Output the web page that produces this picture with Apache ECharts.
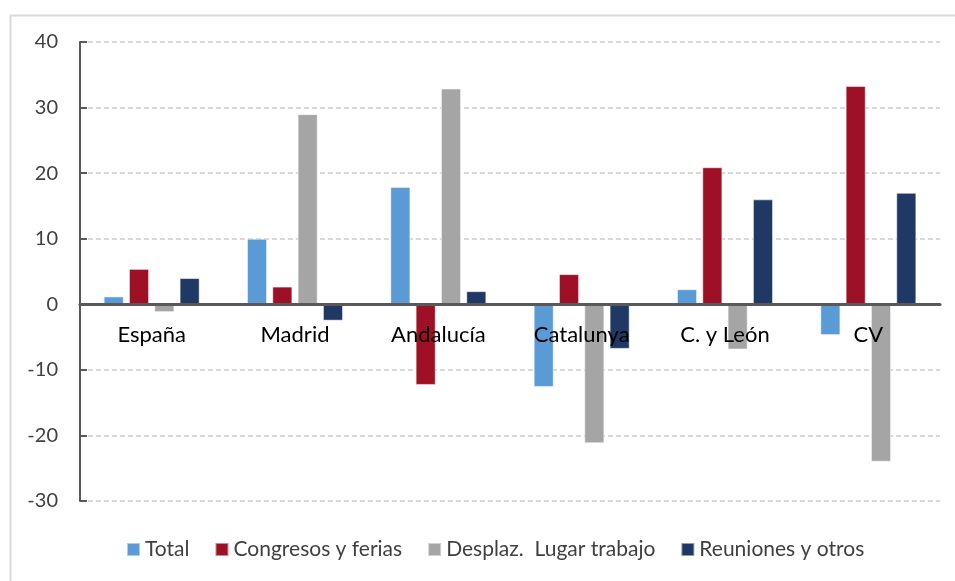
<!DOCTYPE html>
<html>
<head>
<meta charset="utf-8">
<script src="https://cdn.jsdelivr.net/npm/echarts@6/dist/echarts.min.js"></script>
<style>
html,body{margin:0;padding:0;background:#fff;}
#c{width:955px;height:581px;}
</style>
</head>
<body>
<div id="c"></div>
<script>
var categories = ['España', 'Madrid', 'Andalucía', 'Catalunya', 'C. y León', 'CV'];
var total = [1.2, 10.0, 17.9, -12.6, 2.3, -4.7];
var congresos = [5.4, 2.7, -12.3, 4.6, 20.9, 33.3];
var desplaz = [-1.2, 29.0, 32.9, -21.2, -6.9, -24.0];
var reuniones = [4.0, -2.5, 2.0, -6.8, 16.0, 17.0];
var seriesNames = ['Total', 'Congresos y ferias', 'Desplaz.  Lugar trabajo', 'Reuniones y otros'];
var yTicks = [-30, -20, -10, 0, 10, 20, 30, 40];

var colors = ['#5B9BD5', '#9E1025', '#A5A5A5', '#203864'];
var font = 'Lato, "Open Sans", "Noto Sans", sans-serif';
var W = 955, H = 581;
var gridTop = 42, gridBottom = 80;
var yMin = yTicks[0], yMax = yTicks[yTicks.length - 1];
var plotH = H - gridTop - gridBottom;
var zeroOffset = -(0 - yMin) / (yMax - yMin) * plotH;

var chart = echarts.init(document.getElementById('c'));
var data = [total, congresos, desplaz, reuniones];
chart.setOption({
  animation: false,
  graphic: [{
    type: 'rect', left: 8, top: 13, shape: {width: 1200, height: 1000},
    style: {fill: 'none', stroke: '#d9d9d9', lineWidth: 2}, silent: true
  }],
  grid: {left: 80, right: 15, top: gridTop, bottom: gridBottom},
  legend: {
    bottom: 16, left: 121, itemWidth: 13, itemHeight: 13, itemGap: 25,
    icon: 'rect',
    textStyle: {fontFamily: font, fontSize: 21, color: '#404040'},
    data: seriesNames
  },
  xAxis: {
    type: 'category', data: categories,
    offset: zeroOffset,
    axisLine: {onZero: false, lineStyle: {color: '#595959', width: 3}},
    axisTick: {show: false},
    axisLabel: {fontFamily: font, fontSize: 22, color: '#000', margin: 20},
    z: 5
  },
  yAxis: {
    type: 'value', min: yMin, max: yMax, interval: 10,
    axisLine: {show: true, lineStyle: {color: '#595959', width: 2}},
    axisTick: {show: true, inside: true, length: 7, lineStyle: {color: '#595959', width: 2}},
    axisLabel: {fontFamily: font, fontSize: 20, color: '#404040', margin: 22},
    splitLine: {lineStyle: {color: '#d9d9d9', type: [5, 3], width: 2}}
  },
  series: seriesNames.map(function (n, i) {
    return {
      name: n, type: 'bar', data: data[i],
      barGap: '26%', barCategoryGap: '33%',
      itemStyle: {color: colors[i], borderColor: 'rgba(255,255,255,0.5)', borderWidth: 1}
    };
  })
});
</script>
</body>
</html>
